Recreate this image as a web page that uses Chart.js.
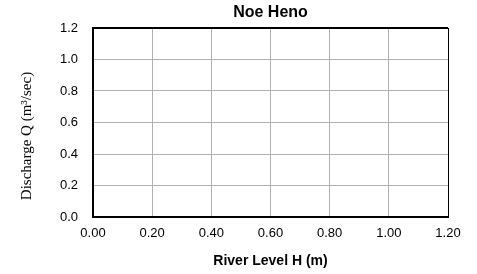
<!DOCTYPE html>
<html>
<head>
<meta charset="utf-8">
<script src="https://cdn.jsdelivr.net/npm/chart.js@4/dist/chart.umd.min.js"></script>
<style>
  html, body { margin: 0; padding: 0; background: #fff; }
  #wrap { width: 477px; height: 274px; }
</style>
</head>
<body>
<div id="wrap"><canvas id="myChart" width="477" height="274"></canvas></div>
<script>
// data (the reference chart has no plotted points)
var riverLevel = [];
var discharge = [];
var xTicks = [0, 0.2, 0.4, 0.6, 0.8, 1.0, 1.2];
var yTicks = [0, 0.2, 0.4, 0.6, 0.8, 1.0, 1.2];
var chartTitle = 'Noe Heno';
var xTitle = 'River Level H (m)';
var yTitle = 'Discharge Q (m³/sec)';

var points = riverLevel.map(function (h, i) { return { x: h, y: discharge[i] }; });

// frame round the plot area + title and y title text
var frame = {
    id: 'frame',
    afterDraw: function (chart) {
        var a = chart.chartArea, c = chart.ctx;
        c.save();
        c.strokeStyle = '#000';
        c.lineWidth = 2;
        c.beginPath();
        c.moveTo(a.left - 1, a.top);
        c.lineTo(a.right, a.top);
        c.stroke();
        c.lineWidth = 1;
        c.beginPath();
        c.moveTo(a.right + 0.5, a.top);
        c.lineTo(a.right + 0.5, a.bottom);
        c.stroke();

        c.fillStyle = '#000';
        c.textAlign = 'center';
        c.textBaseline = 'middle';
        c.font = 'bold 16px Arial, "Liberation Sans"';
        c.fillText(chartTitle, (a.left + a.right) / 2, 13);

        c.translate(27, 136);
        c.rotate(-Math.PI / 2);
        c.font = '15px "Times New Roman", "Liberation Serif", serif';
        c.fillText(yTitle, 0, 0);
        c.restore();
    }
};

var ctx = document.getElementById("myChart").getContext('2d');
var chart = new Chart(ctx, {
    type: 'scatter',
    data: {
        datasets: [{
            label: 'Discharge',
            data: points,
            backgroundColor: '#000',
            borderColor: '#000'
        }]
    },
    options: {
        responsive: false,
        animation: false,
        layout: { padding: { left: 0, right: 29, top: 28, bottom: 0 } },
        plugins: {
            legend: { display: false },
            tooltip: { enabled: false },
            title: { display: false }
        },
        scales: {
            x: {
                type: 'linear',
                min: 0,
                max: 1.2,
                afterBuildTicks: function (s) { s.ticks = xTicks.map(function (v) { return { value: v }; }); },
                afterFit: function (s) { s.height = 57; },
                ticks: {
                    color: '#000',
                    font: { family: 'Arial, "Liberation Sans"', size: 13 },
                    padding: 9,
                    maxRotation: 0,
                    callback: function (v) { return Number(v).toFixed(2); }
                },
                grid: { color: '#b0b0b0', drawTicks: false },
                border: { color: '#000', width: 2 },
                title: {
                    display: true,
                    text: xTitle,
                    color: '#000',
                    font: { family: 'Arial, "Liberation Sans"', size: 14, weight: 'bold' },
                    padding: { top: 0, bottom: 4 }
                }
            },
            y: {
                type: 'linear',
                min: 0,
                max: 1.2,
                afterBuildTicks: function (s) { s.ticks = yTicks.map(function (v) { return { value: v }; }); },
                afterFit: function (s) { s.width = 93; },
                ticks: {
                    color: '#000',
                    font: { family: 'Arial, "Liberation Sans"', size: 13 },
                    padding: 15,
                    callback: function (v) { return Number(v).toFixed(1); }
                },
                grid: { color: '#b0b0b0', drawTicks: false },
                border: { color: '#000', width: 2 }
            }
        }
    },
    plugins: [frame]
});
</script>
</body>
</html>
